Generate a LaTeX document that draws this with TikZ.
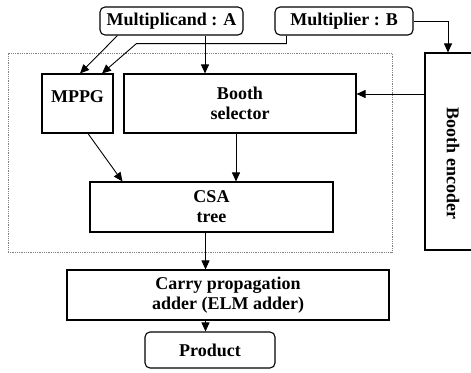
\documentclass[tikz,border=0pt]{standalone}
\usepackage{fontspec}
\setmainfont{Liberation Serif}
\usepackage{graphicx}
\usetikzlibrary{arrows.meta}
\usetikzlibrary{calc}
\usetikzlibrary{positioning}
\tikzset{
    unit box/.style={
        draw,
        line width=1.1pt,
        align=center,
        inner sep=0pt,
        font=\fontsize{18}{20}\selectfont\bfseries
    },
    io box/.style={
        unit box,
        rounded corners=5pt
    },
    core box/.style={
        draw=gray,
        densely dotted,
        line width=0.8pt
    },
    flow/.style={
        -{Triangle[length=9pt,width=8pt]},
        line width=0.9pt
    }
}

\begin{document}
\begin{tikzpicture}[x=1pt,y=-1pt]
            \useasboundingbox (0,0) rectangle (471,372);
            \node[core box,minimum width=384pt,minimum height=199pt] (core) at (200,152.5) {};
            \node[io box,minimum width=143pt,minimum height=28pt] (mcand) at (171.5,21) {Multiplicand : A};
            \node[io box,minimum width=138pt,minimum height=28pt] (mplier) at (344,21) {Multiplier : B};
            \node[unit box,minimum width=71pt,minimum height=59pt,text height=12pt,text depth=15pt] (mppg) at (77.5,103.5) {MPPG};
            \node[unit box,minimum width=232pt,minimum height=59pt] (sel) at (240,103.5) {Booth\\selector};
            \node[unit box,minimum width=56pt,minimum height=197pt] (enc) at (453,151.5) {\rotatebox{-90}{\hspace*{24pt}Booth encoder}};
            \node[unit box,minimum width=243pt,minimum height=50pt] (csa) at (211.5,207) {CSA\\tree};
            \node[unit box,minimum width=322pt,minimum height=50pt] (cpa) at (228,295) {Carry propagation\\adder (ELM adder)};
            \node[io box,minimum width=130pt,minimum height=36pt] (prod) at (210,350) {Product};
            \coordinate (a1) at ($(mcand.south)+(33.5,0)$);
            \coordinate (mppgin) at ($(mppg.north)+(24.5,0)$);
            \coordinate (encin) at ($(enc.north)+(-5,0)$);
            \coordinate (selin) at ($(sel.east)+(0,-9.5)$);
            \coordinate (b1) at ($(sel.south)+(-4,0)$);
            \coordinate (c1) at ($(csa.south)+(-6,0)$);
            \draw[flow] ($(mcand.south west)+(18,0)$) -- ($(mppg.north)+(2.5,0)$);
            \draw[flow] ($(mplier.south west)+(12,0)$) -- ++(0,8) -- ++(-150,0) -- (mppgin);
            \draw[flow] (a1) -- (a1 |- sel.north);
            \draw[flow] (mplier.east) -| (encin);
            \draw[flow] (enc.west |- selin) -- (selin);
            \draw[flow] ($(mppg.south)+(10.5,0)$) -- ($(csa.north west)+(33,0)$);
            \draw[flow] (b1) -- (b1 |- csa.north);
            \draw[flow] (c1) -- (c1 |- cpa.north);
            \draw[flow] (c1 |- cpa.south) -- (c1 |- prod.north);
\end{tikzpicture}
\end{document}
